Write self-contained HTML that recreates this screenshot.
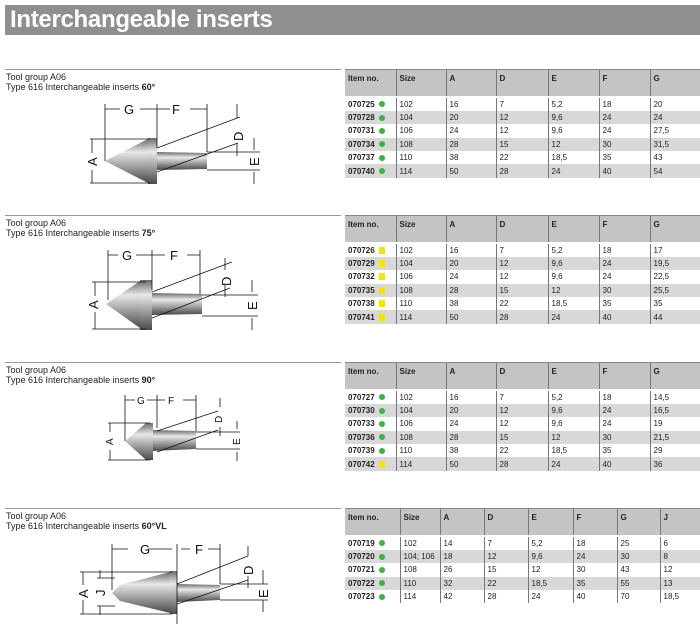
<!DOCTYPE html>
<html><head><meta charset="utf-8"><style>
body{margin:0;width:700px;height:624px;background:#fff;position:relative;overflow:hidden;font-family:"Liberation Sans",sans-serif;}
.title{position:absolute;left:5px;top:5px;width:695px;height:30px;background:#8f8f8f;color:#fff;font-weight:bold;font-size:24px;line-height:30px;padding-left:5px;box-sizing:border-box;letter-spacing:-0.3px}
.hl{position:absolute;left:5px;width:336px;height:1px;background:#999;}
.cap{position:absolute;left:6px;font-size:9px;line-height:10px;color:#222;}
table{position:absolute;left:345px;border-collapse:collapse;font-size:8px;color:#222;table-layout:fixed;}
td,th{padding:0 0 0 3px;text-align:left;border-left:1px solid #777;height:13.4px;box-sizing:border-box;overflow:hidden;white-space:nowrap}
td:first-child,th:first-child{border-left:none;font-weight:bold;}
th{background:#c4c4c4;height:26px;vertical-align:top;padding-top:4px;font-weight:bold;border-top:1px solid #888;}
tr.sp td{height:2px;border:none;padding:0}
tr.g td{background:#d8d8d8;}
.d{display:inline-block;width:6px;height:6px;border-radius:50%;background:#3cb43c;margin-left:4px;vertical-align:-0.5px}
.y{display:inline-block;width:6px;height:7px;background:#f5e600;margin-left:4px;vertical-align:-1px}
svg{position:absolute;left:0;top:0}
</style></head><body>
<div class="title">Interchangeable inserts</div>

<div class="hl" style="top:69px"></div>
<div class="cap" style="top:72px">Tool group A06<br>Type 616 Interchangeable inserts <b>60°</b></div>
<table style="top:69px;width:355px">
<colgroup><col style="width:51px"><col style="width:50px"><col style="width:50px"><col style="width:52px"><col style="width:51px"><col style="width:51px"><col style="width:50px"></colgroup>
<tr><th>Item no.</th><th>Size</th><th>A</th><th>D</th><th>E</th><th>F</th><th>G</th></tr>
<tr class="sp"><td></td><td></td><td></td><td></td><td></td><td></td><td></td></tr>
<tr><td>070725<span class="d"></span></td><td>102</td><td>16</td><td>7</td><td>5,2</td><td>18</td><td>20</td></tr>
<tr class="g"><td>070728<span class="d"></span></td><td>104</td><td>20</td><td>12</td><td>9,6</td><td>24</td><td>24</td></tr>
<tr><td>070731<span class="d"></span></td><td>106</td><td>24</td><td>12</td><td>9,6</td><td>24</td><td>27,5</td></tr>
<tr class="g"><td>070734<span class="d"></span></td><td>108</td><td>28</td><td>15</td><td>12</td><td>30</td><td>31,5</td></tr>
<tr><td>070737<span class="d"></span></td><td>110</td><td>38</td><td>22</td><td>18,5</td><td>35</td><td>43</td></tr>
<tr class="g"><td>070740<span class="d"></span></td><td>114</td><td>50</td><td>28</td><td>24</td><td>40</td><td>54</td></tr>
</table>

<div class="hl" style="top:215px"></div>
<div class="cap" style="top:218px">Tool group A06<br>Type 616 Interchangeable inserts <b>75°</b></div>
<table style="top:215px;width:355px">
<colgroup><col style="width:51px"><col style="width:50px"><col style="width:50px"><col style="width:52px"><col style="width:51px"><col style="width:51px"><col style="width:50px"></colgroup>
<tr><th>Item no.</th><th>Size</th><th>A</th><th>D</th><th>E</th><th>F</th><th>G</th></tr>
<tr class="sp"><td></td><td></td><td></td><td></td><td></td><td></td><td></td></tr>
<tr><td>070726<span class="y"></span></td><td>102</td><td>16</td><td>7</td><td>5,2</td><td>18</td><td>17</td></tr>
<tr class="g"><td>070729<span class="y"></span></td><td>104</td><td>20</td><td>12</td><td>9,6</td><td>24</td><td>19,5</td></tr>
<tr><td>070732<span class="y"></span></td><td>106</td><td>24</td><td>12</td><td>9,6</td><td>24</td><td>22,5</td></tr>
<tr class="g"><td>070735<span class="y"></span></td><td>108</td><td>28</td><td>15</td><td>12</td><td>30</td><td>25,5</td></tr>
<tr><td>070738<span class="y"></span></td><td>110</td><td>38</td><td>22</td><td>18,5</td><td>35</td><td>35</td></tr>
<tr class="g"><td>070741<span class="y"></span></td><td>114</td><td>50</td><td>28</td><td>24</td><td>40</td><td>44</td></tr>
</table>

<div class="hl" style="top:362px"></div>
<div class="cap" style="top:365px">Tool group A06<br>Type 616 Interchangeable inserts <b>90°</b></div>
<table style="top:362px;width:355px">
<colgroup><col style="width:51px"><col style="width:50px"><col style="width:50px"><col style="width:52px"><col style="width:51px"><col style="width:51px"><col style="width:50px"></colgroup>
<tr><th>Item no.</th><th>Size</th><th>A</th><th>D</th><th>E</th><th>F</th><th>G</th></tr>
<tr class="sp"><td></td><td></td><td></td><td></td><td></td><td></td><td></td></tr>
<tr><td>070727<span class="d"></span></td><td>102</td><td>16</td><td>7</td><td>5,2</td><td>18</td><td>14,5</td></tr>
<tr class="g"><td>070730<span class="d"></span></td><td>104</td><td>20</td><td>12</td><td>9,6</td><td>24</td><td>16,5</td></tr>
<tr><td>070733<span class="d"></span></td><td>106</td><td>24</td><td>12</td><td>9,6</td><td>24</td><td>19</td></tr>
<tr class="g"><td>070736<span class="d"></span></td><td>108</td><td>28</td><td>15</td><td>12</td><td>30</td><td>21,5</td></tr>
<tr><td>070739<span class="d"></span></td><td>110</td><td>38</td><td>22</td><td>18,5</td><td>35</td><td>29</td></tr>
<tr class="g"><td>070742<span class="y"></span></td><td>114</td><td>50</td><td>28</td><td>24</td><td>40</td><td>36</td></tr>
</table>

<div class="hl" style="top:508px"></div>
<div class="cap" style="top:511px">Tool group A06<br>Type 616 Interchangeable inserts <b>60°VL</b></div>
<table style="top:508px;width:355px">
<colgroup><col style="width:55px"><col style="width:40px"><col style="width:44px"><col style="width:44px"><col style="width:45px"><col style="width:44px"><col style="width:43px"><col style="width:40px"></colgroup>
<tr><th>Item no.</th><th>Size</th><th>A</th><th>D</th><th>E</th><th>F</th><th>G</th><th>J</th></tr>
<tr class="sp"><td></td><td></td><td></td><td></td><td></td><td></td><td></td><td></td></tr>
<tr><td>070719<span class="d"></span></td><td>102</td><td>14</td><td>7</td><td>5,2</td><td>18</td><td>25</td><td>6</td></tr>
<tr class="g"><td>070720<span class="d"></span></td><td>104; 106</td><td>18</td><td>12</td><td>9,6</td><td>24</td><td>30</td><td>8</td></tr>
<tr><td>070721<span class="d"></span></td><td>108</td><td>26</td><td>15</td><td>12</td><td>30</td><td>43</td><td>12</td></tr>
<tr class="g"><td>070722<span class="d"></span></td><td>110</td><td>32</td><td>22</td><td>18,5</td><td>35</td><td>55</td><td>13</td></tr>
<tr><td>070723<span class="d"></span></td><td>114</td><td>42</td><td>28</td><td>24</td><td>40</td><td>70</td><td>18,5</td></tr>
</table>

<svg width="700" height="624" viewBox="0 0 700 624">
<defs>
<linearGradient id="m" x1="0" y1="0" x2="0" y2="1">
<stop offset="0" stop-color="#6a6a6a"/><stop offset="0.3" stop-color="#e8e8e8"/><stop offset="0.55" stop-color="#b0b0b0"/><stop offset="1" stop-color="#4a4a4a"/></linearGradient>
</defs>
<g stroke="#111" stroke-width="0.8" fill="none" font-family="Liberation Sans" font-size="13">
<polygon points="105,161 148,139 148,183" fill="url(#m)" stroke="none"/>
<rect x="148" y="138" width="9" height="46" fill="url(#m)" stroke="none"/>
<polygon points="157,152 207,153 207,169 157,170" fill="url(#m)" stroke="none"/>
<path d="M105,104V161 M157,104V148 M207,104V152 M105,109H120 M140,109H157 M157,109H170 M190,109H207 M90,139H150 M90,183H150 M92,139V153 M92,170V183 M157,148L240,117 M157,172L238,143 M207,152H260 M207,170H260 M237,104V118 M237,143V156 M254,138V150 M254,172V184"/>
<text x="124" y="114" stroke="none" fill="#111">G</text><text x="172" y="114" stroke="none" fill="#111">F</text>
<text transform="translate(97,161) rotate(-90)" x="-5" y="0" stroke="none" fill="#111">A</text>
<text transform="translate(243,136) rotate(-90)" x="-5" y="0" stroke="none" fill="#111">D</text>
<text transform="translate(259,161) rotate(-90)" x="-5" y="0" stroke="none" fill="#111">E</text>
<polygon points="106,304 140,281 140,328" fill="url(#m)" stroke="none"/>
<rect x="140" y="280" width="12" height="50" fill="url(#m)" stroke="none"/>
<polygon points="152,293 202,294 202,314 152,315" fill="url(#m)" stroke="none"/>
<path d="M108,250V300 M152,250V290 M200,250V294 M108,255H118 M136,255H152 M152,255H165 M187,255H200 M92,282H146 M92,329H146 M95,282V296 M95,312V329 M152,292L232,262 M152,318L230,288 M202,295H258 M202,316H258 M225,258V270 M225,285V297 M252,280V292 M252,318V330"/>
<text x="122" y="260" stroke="none" fill="#111">G</text><text x="170" y="260" stroke="none" fill="#111">F</text>
<text transform="translate(98,304) rotate(-90)" x="-5" y="0" stroke="none" fill="#111">A</text>
<text transform="translate(231,281) rotate(-90)" x="-5" y="0" stroke="none" fill="#111">D</text>
<text transform="translate(257,305) rotate(-90)" x="-5" y="0" stroke="none" fill="#111">E</text>
<g font-size="10">
<polygon points="125,441 145,424 145,459" fill="url(#m)" stroke="none"/>
<rect x="145" y="423" width="8" height="37" fill="url(#m)" stroke="none"/>
<polygon points="153,430 196,431 196,449 153,451" fill="url(#m)" stroke="none"/>
<path d="M125,395V441 M157,395V428 M196,395V431 M125,400H135 M147,400H157 M157,400H165 M183,400H196 M108,423H150 M108,460H150 M110,423V432 M110,450V460 M157,431L218,411 M157,452L218,430 M196,432H240 M196,449H240 M220,398V407 M220,427V436 M237,421V429 M237,452V461"/>
<text x="137" y="404" stroke="none" fill="#111">G</text><text x="168" y="404" stroke="none" fill="#111">F</text>
<text transform="translate(113,441) rotate(-90)" x="-4" y="0" stroke="none" fill="#111">A</text>
<text transform="translate(222,419) rotate(-90)" x="-4" y="0" stroke="none" fill="#111">D</text>
<text transform="translate(240,441) rotate(-90)" x="-4" y="0" stroke="none" fill="#111">E</text>
</g>
<polygon points="112,593 120,585 170,572 170,613 120,601" fill="url(#m)" stroke="none"/>
<rect x="170" y="571" width="7" height="43" fill="url(#m)" stroke="none"/>
<polygon points="177,584 220,585 220,600 177,602" fill="url(#m)" stroke="none"/>
<path d="M112,544V590 M177,544V624 M220,544V584 M112,549H128 M148,549H172 M181,549H190 M208,549H220 M80,572H172 M80,614H172 M97,578H115 M97,606H115 M83,572V585 M83,600V614 M100,570V578 M100,606V615 M177,584L248,556 M177,604L248,580 M220,584H268 M220,600H268 M248,546V556 M248,576V588 M263,570V584 M263,600V612"/>
<text x="140" y="554" stroke="none" fill="#111">G</text><text x="195" y="554" stroke="none" fill="#111">F</text>
<text transform="translate(88,593) rotate(-90)" x="-5" y="0" stroke="none" fill="#111">A</text>
<text transform="translate(105,593) rotate(-90)" x="-3" y="0" stroke="none" fill="#111">J</text>
<text transform="translate(253,570) rotate(-90)" x="-5" y="0" stroke="none" fill="#111">D</text>
<text transform="translate(268,593) rotate(-90)" x="-5" y="0" stroke="none" fill="#111">E</text>
</g>
</svg>
</body></html>
